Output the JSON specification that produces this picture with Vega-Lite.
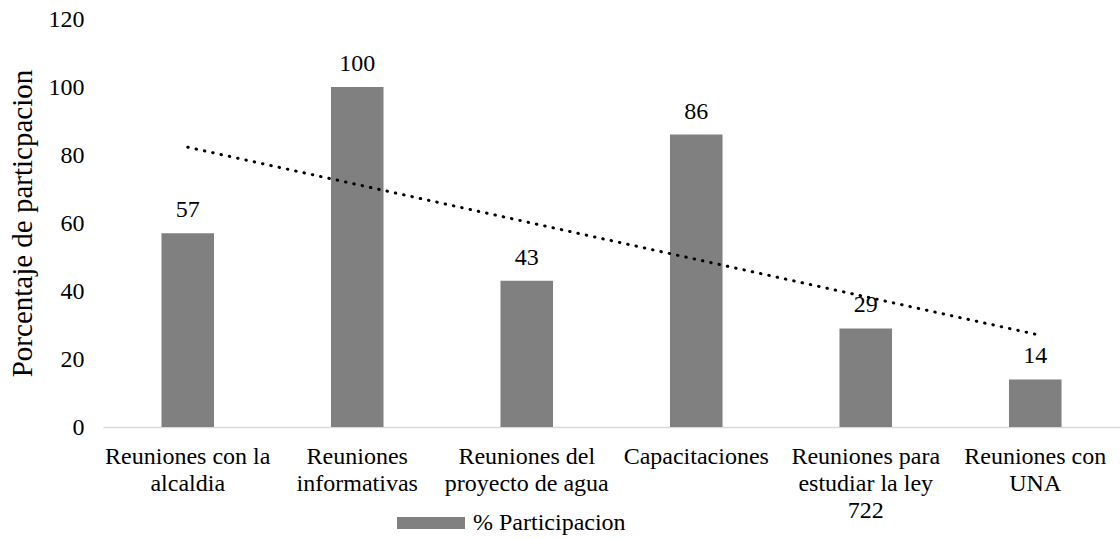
{
  "$schema": "https://vega.github.io/schema/vega-lite/v6.json",
  "width": 1017,
  "height": 408,
  "autosize": {"type": "none"},
  "padding": {"left": 103, "top": 19, "right": 0, "bottom": 111},
  "background": "white",
  "config": {
    "view": {"stroke": null},
    "font": "Times New Roman, Liberation Serif, serif",
    "text": {"font": "Times New Roman, Liberation Serif, serif"},
    "axis": {"labelFont": "Times New Roman, Liberation Serif, serif", "titleFont": "Times New Roman, Liberation Serif, serif", "labelColor": "#000000", "titleColor": "#000000"},
    "legend": {"labelFont": "Times New Roman, Liberation Serif, serif", "labelColor": "#000000"}
  },
  "datasets": {
    "barras": [
      {"actividad": "Reuniones con la alcaldia", "participacion": 57, "serie": "% Participacion"},
      {"actividad": "Reuniones informativas", "participacion": 100, "serie": "% Participacion"},
      {"actividad": "Reuniones del proyecto de agua", "participacion": 43, "serie": "% Participacion"},
      {"actividad": "Capacitaciones", "participacion": 86, "serie": "% Participacion"},
      {"actividad": "Reuniones para estudiar la ley 722", "participacion": 29, "serie": "% Participacion"},
      {"actividad": "Reuniones con UNA", "participacion": 14, "serie": "% Participacion"}
    ],
    "tendencia": [
      {"actividad": "Reuniones con la alcaldia", "tendencia": 82.3},
      {"actividad": "Reuniones con UNA", "tendencia": 27.3}
    ]
  },
  "layer": [
    {
      "data": {"name": "barras"},
      "mark": {"type": "bar", "color": "#808080"},
      "encoding": {
        "x": {
          "field": "actividad", "type": "nominal", "sort": null,
          "scale": {"paddingInner": 0.69, "paddingOuter": 0.345},
          "axis": {
            "title": null, "labelAngle": 0, "ticks": false,
            "domainColor": "#d9d9d9", "domainWidth": 1.5,
            "labelFontSize": 24, "labelPadding": 17, "labelLineHeight": 27,
            "labelBaseline": "top", "labelLimit": 300,
            "labelExpr": "datum.value == 'Reuniones con la alcaldia' ? ['Reuniones con la', 'alcaldia'] : datum.value == 'Reuniones informativas' ? ['Reuniones', 'informativas'] : datum.value == 'Reuniones del proyecto de agua' ? ['Reuniones del', 'proyecto de agua'] : datum.value == 'Reuniones para estudiar la ley 722' ? ['Reuniones para', 'estudiar la ley', '722'] : datum.value == 'Reuniones con UNA' ? ['Reuniones con', 'UNA'] : datum.label"
          }
        },
        "y": {
          "field": "participacion", "type": "quantitative",
          "scale": {"domain": [0, 120]},
          "axis": {
            "title": "Porcentaje de particpacion", "titleFontSize": 29, "titleFontWeight": "normal",
            "titlePadding": 11, "values": [0, 20, 40, 60, 80, 100, 120],
            "grid": false, "domain": false, "ticks": false,
            "labelFontSize": 24, "labelPadding": 19
          }
        },
        "color": {
          "field": "serie", "type": "nominal",
          "scale": {"range": ["#808080"]},
          "legend": {
            "title": null, "orient": "none", "legendX": 294, "legendY": 470,
            "direction": "horizontal", "padding": 0,
            "symbolType": "M-1,-0.176H1V0.176H-1Z", "symbolSize": 4624,
            "symbolFillColor": "#808080", "symbolStrokeWidth": 0,
            "labelFontSize": 24, "labelOffset": 8
          }
        }
      }
    },
    {
      "data": {"name": "barras"},
      "mark": {"type": "text", "baseline": "alphabetic", "dy": -16, "fontSize": 24, "color": "#000000"},
      "encoding": {
        "x": {"field": "actividad", "type": "nominal", "sort": null},
        "y": {"field": "participacion", "type": "quantitative"},
        "text": {"field": "participacion", "type": "quantitative"}
      }
    },
    {
      "data": {"name": "tendencia"},
      "mark": {"type": "line", "color": "#000000", "strokeWidth": 3, "strokeCap": "round", "strokeDash": [0.5, 8]},
      "encoding": {
        "x": {"field": "actividad", "type": "nominal", "sort": null},
        "y": {"field": "tendencia", "type": "quantitative"}
      }
    }
  ]
}
